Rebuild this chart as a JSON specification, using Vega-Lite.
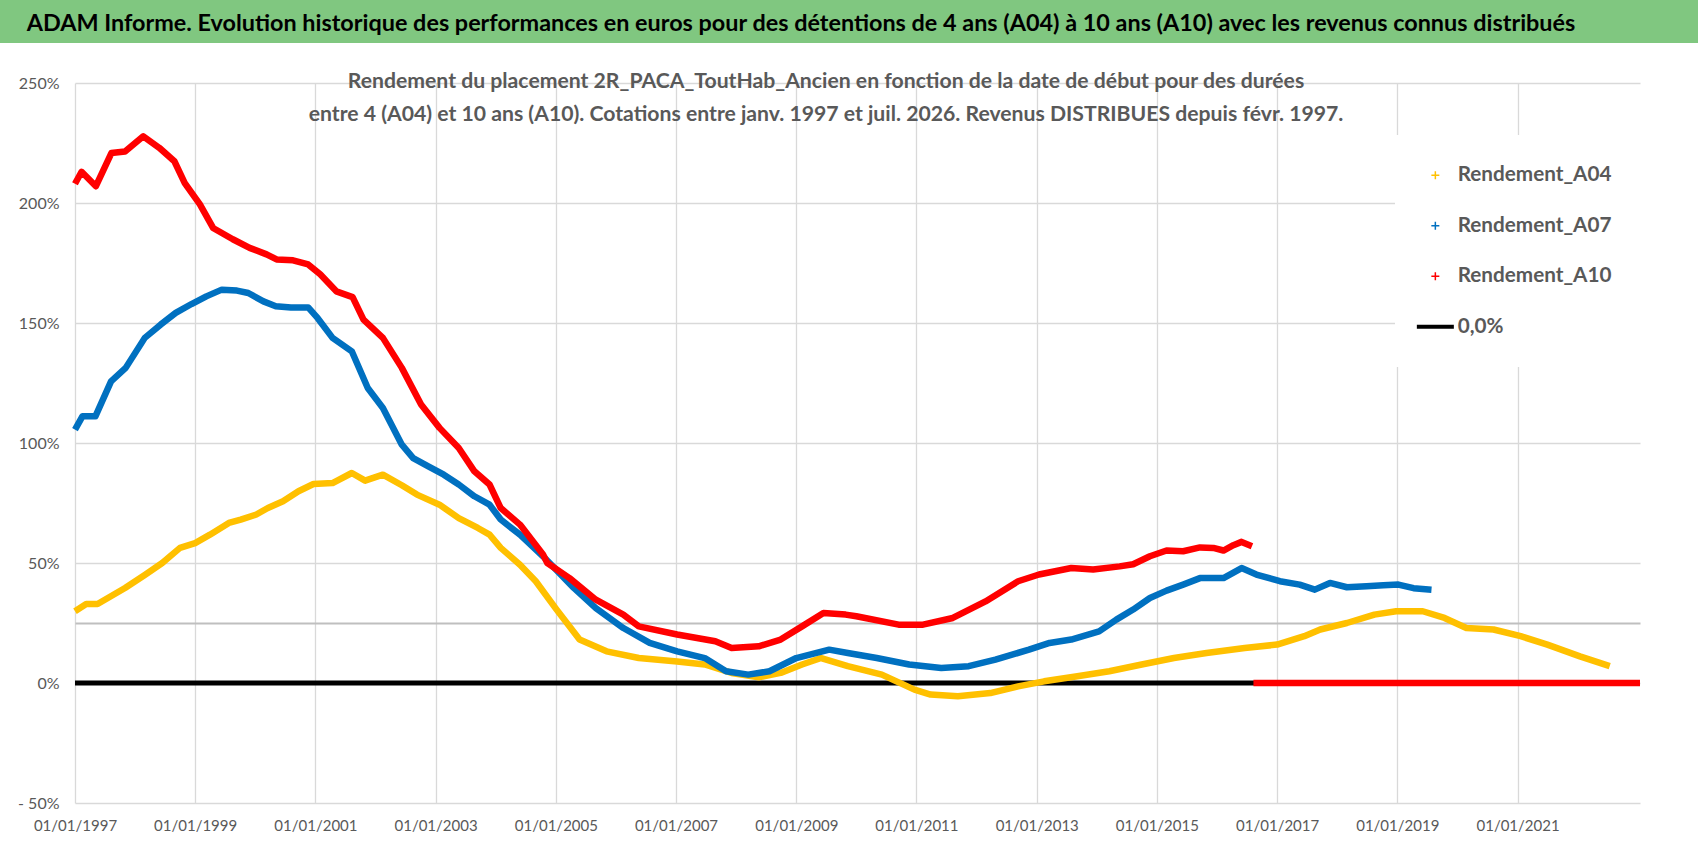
{
  "$schema": "https://vega.github.io/schema/vega-lite/v6.json",
  "background": "white",
  "padding": 0,
  "spacing": 27,
  "columns": 1,
  "align": "none",
  "config": {
    "view": {"stroke": null},
    "font": "Lato"
  },
  "datasets": {
    "header": [
      {"t": "ADAM Informe. Evolution historique des performances en euros pour des détentions de 4 ans (A04) à 10 ans (A10) avec les revenus connus distribués"}
    ],
    "zero": [
      {"date": "1997-01-01", "serie": "0,0%", "value": 0},
      {"date": "2023-01-15", "serie": "0,0%", "value": 0}
    ],
    "series": [
      {"date": "1997-01-01", "serie": "Rendement_A04", "part": 1, "value": 29.9},
      {"date": "1997-03-10", "serie": "Rendement_A04", "part": 1, "value": 32.9},
      {"date": "1997-05-18", "serie": "Rendement_A04", "part": 1, "value": 32.9},
      {"date": "1997-11-01", "serie": "Rendement_A04", "part": 1, "value": 39.6},
      {"date": "1998-03-01", "serie": "Rendement_A04", "part": 1, "value": 45},
      {"date": "1998-06-15", "serie": "Rendement_A04", "part": 1, "value": 50},
      {"date": "1998-10-01", "serie": "Rendement_A04", "part": 1, "value": 56.3},
      {"date": "1999-01-01", "serie": "Rendement_A04", "part": 1, "value": 58.3},
      {"date": "1999-04-01", "serie": "Rendement_A04", "part": 1, "value": 61.8},
      {"date": "1999-07-25", "serie": "Rendement_A04", "part": 1, "value": 66.7},
      {"date": "1999-10-05", "serie": "Rendement_A04", "part": 1, "value": 68.1},
      {"date": "2000-01-08", "serie": "Rendement_A04", "part": 1, "value": 70.2},
      {"date": "2000-03-18", "serie": "Rendement_A04", "part": 1, "value": 72.9},
      {"date": "2000-06-18", "serie": "Rendement_A04", "part": 1, "value": 75.7},
      {"date": "2000-09-20", "serie": "Rendement_A04", "part": 1, "value": 79.9},
      {"date": "2000-12-20", "serie": "Rendement_A04", "part": 1, "value": 82.9},
      {"date": "2001-04-15", "serie": "Rendement_A04", "part": 1, "value": 83.3},
      {"date": "2001-08-10", "serie": "Rendement_A04", "part": 1, "value": 87.5},
      {"date": "2001-10-30", "serie": "Rendement_A04", "part": 1, "value": 84.3},
      {"date": "2002-02-15", "serie": "Rendement_A04", "part": 1, "value": 86.8},
      {"date": "2002-06-10", "serie": "Rendement_A04", "part": 1, "value": 82.4},
      {"date": "2002-09-10", "serie": "Rendement_A04", "part": 1, "value": 78.5},
      {"date": "2003-01-25", "serie": "Rendement_A04", "part": 1, "value": 74.3},
      {"date": "2003-05-22", "serie": "Rendement_A04", "part": 1, "value": 68.7},
      {"date": "2003-09-15", "serie": "Rendement_A04", "part": 1, "value": 64.6},
      {"date": "2003-11-25", "serie": "Rendement_A04", "part": 1, "value": 61.8},
      {"date": "2004-02-01", "serie": "Rendement_A04", "part": 1, "value": 56.3},
      {"date": "2004-05-28", "serie": "Rendement_A04", "part": 1, "value": 49.3},
      {"date": "2004-09-01", "serie": "Rendement_A04", "part": 1, "value": 42.4},
      {"date": "2005-01-01", "serie": "Rendement_A04", "part": 1, "value": 31},
      {"date": "2005-05-25", "serie": "Rendement_A04", "part": 1, "value": 18.1},
      {"date": "2005-11-05", "serie": "Rendement_A04", "part": 1, "value": 13.2},
      {"date": "2006-05-20", "serie": "Rendement_A04", "part": 1, "value": 10.4},
      {"date": "2007-01-08", "serie": "Rendement_A04", "part": 1, "value": 9},
      {"date": "2007-06-25", "serie": "Rendement_A04", "part": 1, "value": 7.7},
      {"date": "2007-12-05", "serie": "Rendement_A04", "part": 1, "value": 4.2},
      {"date": "2008-05-18", "serie": "Rendement_A04", "part": 1, "value": 2.4},
      {"date": "2008-09-28", "serie": "Rendement_A04", "part": 1, "value": 4.2},
      {"date": "2009-02-05", "serie": "Rendement_A04", "part": 1, "value": 7.7},
      {"date": "2009-06-01", "serie": "Rendement_A04", "part": 1, "value": 10.4},
      {"date": "2009-11-10", "serie": "Rendement_A04", "part": 1, "value": 7},
      {"date": "2010-06-05", "serie": "Rendement_A04", "part": 1, "value": 3.5},
      {"date": "2010-12-20", "serie": "Rendement_A04", "part": 1, "value": -2.75},
      {"date": "2011-03-28", "serie": "Rendement_A04", "part": 1, "value": -4.8},
      {"date": "2011-09-10", "serie": "Rendement_A04", "part": 1, "value": -5.5},
      {"date": "2012-03-25", "serie": "Rendement_A04", "part": 1, "value": -4.2},
      {"date": "2012-09-10", "serie": "Rendement_A04", "part": 1, "value": -1.4},
      {"date": "2013-02-15", "serie": "Rendement_A04", "part": 1, "value": 0.7},
      {"date": "2013-09-05", "serie": "Rendement_A04", "part": 1, "value": 2.8},
      {"date": "2014-03-18", "serie": "Rendement_A04", "part": 1, "value": 4.9},
      {"date": "2014-10-01", "serie": "Rendement_A04", "part": 1, "value": 7.7},
      {"date": "2015-04-15", "serie": "Rendement_A04", "part": 1, "value": 10.4},
      {"date": "2015-10-30", "serie": "Rendement_A04", "part": 1, "value": 12.5},
      {"date": "2016-06-18", "serie": "Rendement_A04", "part": 1, "value": 14.6},
      {"date": "2017-01-01", "serie": "Rendement_A04", "part": 1, "value": 16},
      {"date": "2017-06-15", "serie": "Rendement_A04", "part": 1, "value": 19.5},
      {"date": "2017-09-20", "serie": "Rendement_A04", "part": 1, "value": 22.3},
      {"date": "2018-03-01", "serie": "Rendement_A04", "part": 1, "value": 25},
      {"date": "2018-08-15", "serie": "Rendement_A04", "part": 1, "value": 28.5},
      {"date": "2018-12-25", "serie": "Rendement_A04", "part": 1, "value": 29.9},
      {"date": "2019-06-05", "serie": "Rendement_A04", "part": 1, "value": 29.9},
      {"date": "2019-10-15", "serie": "Rendement_A04", "part": 1, "value": 27.1},
      {"date": "2020-02-25", "serie": "Rendement_A04", "part": 1, "value": 22.9},
      {"date": "2020-08-08", "serie": "Rendement_A04", "part": 1, "value": 22.3},
      {"date": "2021-01-20", "serie": "Rendement_A04", "part": 1, "value": 19.5},
      {"date": "2021-07-01", "serie": "Rendement_A04", "part": 1, "value": 16},
      {"date": "2022-01-15", "serie": "Rendement_A04", "part": 1, "value": 11.1},
      {"date": "2022-07-15", "serie": "Rendement_A04", "part": 1, "value": 7},

      {"date": "1997-01-01", "serie": "Rendement_A07", "part": 1, "value": 105.6},
      {"date": "1997-02-15", "serie": "Rendement_A07", "part": 1, "value": 111.1},
      {"date": "1997-05-05", "serie": "Rendement_A07", "part": 1, "value": 111.1},
      {"date": "1997-08-08", "serie": "Rendement_A07", "part": 1, "value": 125.7},
      {"date": "1997-11-05", "serie": "Rendement_A07", "part": 1, "value": 131.3},
      {"date": "1998-03-01", "serie": "Rendement_A07", "part": 1, "value": 143.8},
      {"date": "1998-06-05", "serie": "Rendement_A07", "part": 1, "value": 149.3},
      {"date": "1998-09-05", "serie": "Rendement_A07", "part": 1, "value": 154.2},
      {"date": "1998-12-10", "serie": "Rendement_A07", "part": 1, "value": 157.9},
      {"date": "1999-03-10", "serie": "Rendement_A07", "part": 1, "value": 161.1},
      {"date": "1999-06-12", "serie": "Rendement_A07", "part": 1, "value": 163.9},
      {"date": "1999-09-12", "serie": "Rendement_A07", "part": 1, "value": 163.5},
      {"date": "1999-11-20", "serie": "Rendement_A07", "part": 1, "value": 162.5},
      {"date": "2000-02-20", "serie": "Rendement_A07", "part": 1, "value": 159},
      {"date": "2000-05-05", "serie": "Rendement_A07", "part": 1, "value": 157},
      {"date": "2000-08-05", "serie": "Rendement_A07", "part": 1, "value": 156.5},
      {"date": "2000-11-18", "serie": "Rendement_A07", "part": 1, "value": 156.5},
      {"date": "2001-01-15", "serie": "Rendement_A07", "part": 1, "value": 152},
      {"date": "2001-04-15", "serie": "Rendement_A07", "part": 1, "value": 143.8},
      {"date": "2001-08-10", "serie": "Rendement_A07", "part": 1, "value": 138.2},
      {"date": "2001-11-15", "serie": "Rendement_A07", "part": 1, "value": 122.9},
      {"date": "2002-02-15", "serie": "Rendement_A07", "part": 1, "value": 114.6},
      {"date": "2002-06-10", "serie": "Rendement_A07", "part": 1, "value": 99.3},
      {"date": "2002-08-18", "serie": "Rendement_A07", "part": 1, "value": 93.7},
      {"date": "2002-11-18", "serie": "Rendement_A07", "part": 1, "value": 90.3},
      {"date": "2003-02-20", "serie": "Rendement_A07", "part": 1, "value": 86.8},
      {"date": "2003-05-22", "serie": "Rendement_A07", "part": 1, "value": 82.7},
      {"date": "2003-08-25", "serie": "Rendement_A07", "part": 1, "value": 77.8},
      {"date": "2003-11-25", "serie": "Rendement_A07", "part": 1, "value": 74.3},
      {"date": "2004-02-01", "serie": "Rendement_A07", "part": 1, "value": 68.1},
      {"date": "2004-05-28", "serie": "Rendement_A07", "part": 1, "value": 61.8},
      {"date": "2004-10-15", "serie": "Rendement_A07", "part": 1, "value": 52.8},
      {"date": "2005-04-20", "serie": "Rendement_A07", "part": 1, "value": 39.6},
      {"date": "2005-09-01", "serie": "Rendement_A07", "part": 1, "value": 31.2},
      {"date": "2006-02-15", "serie": "Rendement_A07", "part": 1, "value": 22.9},
      {"date": "2006-07-25", "serie": "Rendement_A07", "part": 1, "value": 16.7},
      {"date": "2007-01-08", "serie": "Rendement_A07", "part": 1, "value": 13.2},
      {"date": "2007-06-25", "serie": "Rendement_A07", "part": 1, "value": 10.4},
      {"date": "2007-11-01", "serie": "Rendement_A07", "part": 1, "value": 4.9},
      {"date": "2008-03-15", "serie": "Rendement_A07", "part": 1, "value": 3.5},
      {"date": "2008-07-22", "serie": "Rendement_A07", "part": 1, "value": 4.9},
      {"date": "2009-01-01", "serie": "Rendement_A07", "part": 1, "value": 10.4},
      {"date": "2009-07-20", "serie": "Rendement_A07", "part": 1, "value": 13.9},
      {"date": "2009-11-10", "serie": "Rendement_A07", "part": 1, "value": 12.5},
      {"date": "2010-05-05", "serie": "Rendement_A07", "part": 1, "value": 10.4},
      {"date": "2010-11-18", "serie": "Rendement_A07", "part": 1, "value": 7.7},
      {"date": "2011-06-01", "serie": "Rendement_A07", "part": 1, "value": 6.25},
      {"date": "2011-11-15", "serie": "Rendement_A07", "part": 1, "value": 7},
      {"date": "2012-04-25", "serie": "Rendement_A07", "part": 1, "value": 9.75},
      {"date": "2012-11-15", "serie": "Rendement_A07", "part": 1, "value": 13.9},
      {"date": "2013-03-20", "serie": "Rendement_A07", "part": 1, "value": 16.7},
      {"date": "2013-07-30", "serie": "Rendement_A07", "part": 1, "value": 18.1},
      {"date": "2014-01-15", "serie": "Rendement_A07", "part": 1, "value": 21.5},
      {"date": "2014-04-30", "serie": "Rendement_A07", "part": 1, "value": 26.4},
      {"date": "2014-08-10", "serie": "Rendement_A07", "part": 1, "value": 30.6},
      {"date": "2014-11-20", "serie": "Rendement_A07", "part": 1, "value": 35.4},
      {"date": "2015-03-01", "serie": "Rendement_A07", "part": 1, "value": 38.5},
      {"date": "2015-06-10", "serie": "Rendement_A07", "part": 1, "value": 41},
      {"date": "2015-09-20", "serie": "Rendement_A07", "part": 1, "value": 43.7},
      {"date": "2016-02-10", "serie": "Rendement_A07", "part": 1, "value": 43.7},
      {"date": "2016-05-30", "serie": "Rendement_A07", "part": 1, "value": 47.9},
      {"date": "2016-08-28", "serie": "Rendement_A07", "part": 1, "value": 45.2},
      {"date": "2017-01-18", "serie": "Rendement_A07", "part": 1, "value": 42.4},
      {"date": "2017-05-18", "serie": "Rendement_A07", "part": 1, "value": 41},
      {"date": "2017-08-18", "serie": "Rendement_A07", "part": 1, "value": 38.9},
      {"date": "2017-11-18", "serie": "Rendement_A07", "part": 1, "value": 41.7},
      {"date": "2018-03-01", "serie": "Rendement_A07", "part": 1, "value": 39.9},
      {"date": "2018-06-28", "serie": "Rendement_A07", "part": 1, "value": 40.3},
      {"date": "2018-10-08", "serie": "Rendement_A07", "part": 1, "value": 40.7},
      {"date": "2019-01-08", "serie": "Rendement_A07", "part": 1, "value": 41},
      {"date": "2019-04-10", "serie": "Rendement_A07", "part": 1, "value": 39.5},
      {"date": "2019-07-28", "serie": "Rendement_A07", "part": 1, "value": 38.9},

      {"date": "1997-01-01", "serie": "Rendement_A10", "part": 1, "value": 208},
      {"date": "1997-02-10", "serie": "Rendement_A10", "part": 1, "value": 213},
      {"date": "1997-05-08", "serie": "Rendement_A10", "part": 1, "value": 207},
      {"date": "1997-08-10", "serie": "Rendement_A10", "part": 1, "value": 220.8},
      {"date": "1997-11-01", "serie": "Rendement_A10", "part": 1, "value": 221.5},
      {"date": "1998-02-20", "serie": "Rendement_A10", "part": 1, "value": 227.8},
      {"date": "1998-05-28", "serie": "Rendement_A10", "part": 1, "value": 223},
      {"date": "1998-08-28", "serie": "Rendement_A10", "part": 1, "value": 217.4},
      {"date": "1998-10-30", "serie": "Rendement_A10", "part": 1, "value": 208.3},
      {"date": "1999-01-30", "serie": "Rendement_A10", "part": 1, "value": 199.4},
      {"date": "1999-04-20", "serie": "Rendement_A10", "part": 1, "value": 189.6},
      {"date": "1999-08-18", "serie": "Rendement_A10", "part": 1, "value": 184.9},
      {"date": "1999-11-28", "serie": "Rendement_A10", "part": 1, "value": 181.3},
      {"date": "2000-03-10", "serie": "Rendement_A10", "part": 1, "value": 178.6},
      {"date": "2000-05-10", "serie": "Rendement_A10", "part": 1, "value": 176.5},
      {"date": "2000-08-18", "serie": "Rendement_A10", "part": 1, "value": 176.1},
      {"date": "2000-11-18", "serie": "Rendement_A10", "part": 1, "value": 174.4},
      {"date": "2001-01-30", "serie": "Rendement_A10", "part": 1, "value": 170.3},
      {"date": "2001-05-08", "serie": "Rendement_A10", "part": 1, "value": 163.2},
      {"date": "2001-08-15", "serie": "Rendement_A10", "part": 1, "value": 160.8},
      {"date": "2001-10-20", "serie": "Rendement_A10", "part": 1, "value": 151.4},
      {"date": "2002-02-15", "serie": "Rendement_A10", "part": 1, "value": 143.8},
      {"date": "2002-06-10", "serie": "Rendement_A10", "part": 1, "value": 131.3},
      {"date": "2002-10-05", "serie": "Rendement_A10", "part": 1, "value": 116},
      {"date": "2003-01-25", "serie": "Rendement_A10", "part": 1, "value": 106.3},
      {"date": "2003-05-22", "serie": "Rendement_A10", "part": 1, "value": 97.9},
      {"date": "2003-08-25", "serie": "Rendement_A10", "part": 1, "value": 88.2},
      {"date": "2003-11-25", "serie": "Rendement_A10", "part": 1, "value": 82.7},
      {"date": "2004-02-01", "serie": "Rendement_A10", "part": 1, "value": 72.9},
      {"date": "2004-05-28", "serie": "Rendement_A10", "part": 1, "value": 66},
      {"date": "2004-10-15", "serie": "Rendement_A10", "part": 1, "value": 53.5},
      {"date": "2004-11-10", "serie": "Rendement_A10", "part": 1, "value": 50},
      {"date": "2005-03-25", "serie": "Rendement_A10", "part": 1, "value": 43.7},
      {"date": "2005-09-01", "serie": "Rendement_A10", "part": 1, "value": 34.7},
      {"date": "2006-02-15", "serie": "Rendement_A10", "part": 1, "value": 28.5},
      {"date": "2006-05-20", "serie": "Rendement_A10", "part": 1, "value": 23.6},
      {"date": "2007-01-08", "serie": "Rendement_A10", "part": 1, "value": 20.2},
      {"date": "2007-08-28", "serie": "Rendement_A10", "part": 1, "value": 17.4},
      {"date": "2007-12-05", "serie": "Rendement_A10", "part": 1, "value": 14.6},
      {"date": "2008-05-18", "serie": "Rendement_A10", "part": 1, "value": 15.3},
      {"date": "2008-09-28", "serie": "Rendement_A10", "part": 1, "value": 18.1},
      {"date": "2009-02-05", "serie": "Rendement_A10", "part": 1, "value": 23.6},
      {"date": "2009-06-15", "serie": "Rendement_A10", "part": 1, "value": 29.2},
      {"date": "2009-10-28", "serie": "Rendement_A10", "part": 1, "value": 28.5},
      {"date": "2010-01-01", "serie": "Rendement_A10", "part": 1, "value": 27.8},
      {"date": "2010-09-15", "serie": "Rendement_A10", "part": 1, "value": 24.3},
      {"date": "2011-02-10", "serie": "Rendement_A10", "part": 1, "value": 24.3},
      {"date": "2011-08-10", "serie": "Rendement_A10", "part": 1, "value": 27.1},
      {"date": "2012-02-25", "serie": "Rendement_A10", "part": 1, "value": 34},
      {"date": "2012-09-10", "serie": "Rendement_A10", "part": 1, "value": 42.4},
      {"date": "2013-01-15", "serie": "Rendement_A10", "part": 1, "value": 45.2},
      {"date": "2013-07-30", "serie": "Rendement_A10", "part": 1, "value": 47.9},
      {"date": "2013-12-10", "serie": "Rendement_A10", "part": 1, "value": 47.3},
      {"date": "2014-05-20", "serie": "Rendement_A10", "part": 1, "value": 48.6},
      {"date": "2014-08-10", "serie": "Rendement_A10", "part": 1, "value": 49.5},
      {"date": "2014-11-20", "serie": "Rendement_A10", "part": 1, "value": 52.8},
      {"date": "2015-03-01", "serie": "Rendement_A10", "part": 1, "value": 55.2},
      {"date": "2015-06-10", "serie": "Rendement_A10", "part": 1, "value": 54.9},
      {"date": "2015-09-20", "serie": "Rendement_A10", "part": 1, "value": 56.5},
      {"date": "2015-12-10", "serie": "Rendement_A10", "part": 1, "value": 56.3},
      {"date": "2016-02-10", "serie": "Rendement_A10", "part": 1, "value": 55.2},
      {"date": "2016-04-10", "serie": "Rendement_A10", "part": 1, "value": 57.4},
      {"date": "2016-05-30", "serie": "Rendement_A10", "part": 1, "value": 58.8},
      {"date": "2016-08-01", "serie": "Rendement_A10", "part": 1, "value": 57},
      {"date": "2016-08-10", "serie": "Rendement_A10", "part": 2, "value": 0},
      {"date": "2023-01-15", "serie": "Rendement_A10", "part": 2, "value": 0}
    ]
  },
  "concat": [
    {
      "width": 1698,
      "height": 43,
      "view": {"fill": "#80C780", "stroke": null},
      "data": {"name": "header"},
      "mark": {
        "type": "text",
        "font": "Lato",
        "fontSize": 23.4,
        "fontWeight": "bold",
        "color": "#000000",
        "dx": -48,
        "dy": 2
      },
      "encoding": {"text": {"field": "t"}}
    },
    {
      "width": 1640,
      "height": 720,
      "title": {
        "text": [
          "Rendement du placement 2R_PACA_ToutHab_Ancien en fonction de la date de début pour des durées",
          "entre 4 (A04) et 10 ans (A10). Cotations entre janv. 1997 et juil. 2026. Revenus DISTRIBUES depuis févr. 1997."
        ],
        "anchor": "middle",
        "frame": "group",
        "font": "Lato",
        "fontSize": 21.2,
        "fontWeight": "bold",
        "color": "#595959",
        "lineHeight": 33,
        "offset": -50,
        "dx": 6
      },
      "encoding": {
        "x": {
          "field": "date",
          "type": "temporal",
          "title": null,
          "scale": {
            "domain": [
              {"year": 1997, "month": 1, "date": 1},
              {"year": 2023, "month": 1, "date": 15}
            ],
            "range": [75, 1640]
          },
          "axis": {
            "values": [
              {"year": 1997, "month": 1, "date": 1},
              {"year": 1999, "month": 1, "date": 1},
              {"year": 2001, "month": 1, "date": 1},
              {"year": 2003, "month": 1, "date": 1},
              {"year": 2005, "month": 1, "date": 1},
              {"year": 2007, "month": 1, "date": 1},
              {"year": 2009, "month": 1, "date": 1},
              {"year": 2011, "month": 1, "date": 1},
              {"year": 2013, "month": 1, "date": 1},
              {"year": 2015, "month": 1, "date": 1},
              {"year": 2017, "month": 1, "date": 1},
              {"year": 2019, "month": 1, "date": 1},
              {"year": 2021, "month": 1, "date": 1}
            ],
            "format": "%d/%m/%Y",
            "labelFlush": false,
            "labelOverlap": false,
            "ticks": false,
            "domain": false,
            "labelPadding": 15,
            "labelFont": "Lato",
            "labelFontSize": 15,
            "labelColor": "#595959",
            "gridColor": "#d9d9d9",
            "gridWidth": 1.3
          }
        },
        "y": {
          "field": "value",
          "type": "quantitative",
          "title": null,
          "scale": {"domain": [-50, 250], "nice": false},
          "axis": {
            "values": [-50, 0, 25, 50, 100, 150, 200, 250],
            "labelExpr": "datum.value === 25 ? '' : (datum.value < 0 ? '- ' + abs(datum.value) + '%' : datum.value + '%')",
            "ticks": false,
            "domain": false,
            "offset": -75,
            "labelPadding": 16,
            "labelFont": "Lato",
            "labelFontSize": 16,
            "labelColor": "#595959",
            "gridColor": {"condition": {"test": "datum.value === 25", "value": "#bfbfbf"}, "value": "#d9d9d9"},
            "gridWidth": {"condition": {"test": "datum.value === 25", "value": 2}, "value": 1.3}
          }
        },
        "color": {
          "field": "serie",
          "type": "nominal",
          "scale": {
            "domain": ["Rendement_A04", "Rendement_A07", "Rendement_A10", "0,0%"],
            "range": ["#FFC000", "#0070C0", "#FF0000", "#000000"]
          },
          "legend": {
            "title": null,
            "orient": "none",
            "legendX": 1395,
            "legendY": 135,
            "fillColor": "white",
            "padding": 30,
            "symbolSize": 400,
            "labelOffset": 12,
            "rowPadding": 28.5,
            "labelFont": "Lato",
            "labelFontSize": 20.7,
            "labelFontWeight": "bold",
            "labelColor": "#595959",
            "labelLimit": 300,
            "encode": {
              "symbols": {
                "update": {
                  "shape": {"signal": "datum.value === '0,0%' ? 'stroke' : 'M-1,0L1,0M0,-1L0,1'"},
                  "size": {"signal": "datum.value === '0,0%' ? 1369 : 64"},
                  "strokeWidth": {"signal": "datum.value === '0,0%' ? 4 : 1.5"}
                }
              }
            }
          }
        }
      },
      "layer": [
        {
          "data": {"name": "zero"},
          "mark": {"type": "line", "strokeWidth": 5}
        },
        {
          "data": {"name": "series"},
          "mark": {"type": "line", "strokeWidth": 6.5, "strokeJoin": "round"},
          "encoding": {"detail": {"field": "part", "type": "nominal"}}
        }
      ]
    }
  ]
}
